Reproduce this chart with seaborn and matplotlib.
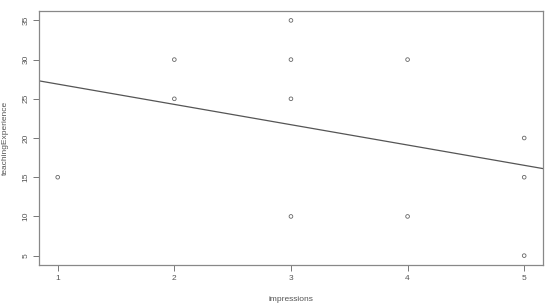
import matplotlib
matplotlib.use("Agg")
import matplotlib.pyplot as plt
import numpy as np
import pandas as pd
import seaborn as sns

impressions = [1, 2, 2, 3, 3, 3, 3, 4, 4, 5, 5, 5]
teaching_experience = [15, 30, 25, 35, 30, 25, 10, 30, 10, 20, 15, 5]
x_ticks = [1, 2, 3, 4, 5]
y_ticks = [5, 10, 15, 20, 25, 30, 35]

df = pd.DataFrame({"impressions": impressions,
                   "teachingExperience": teaching_experience})

sns.set_style("white")
plt.rcParams["font.family"] = ["Liberation Sans", "DejaVu Sans"]

fig = plt.figure(figsize=(5.5, 3.05), dpi=100)
ax = fig.add_axes([0.071, 0.131, 0.916, 0.833])

# R-style: open circles plus least squares line spanning the plot region
sns.scatterplot(data=df, x="impressions", y="teachingExperience", ax=ax,
                marker="o", s=7, facecolor="none", edgecolor="#666666",
                linewidth=0.6)
ax.set_xlim(0.84, 5.16)
ax.set_ylim(3.8, 36.2)
sns.regplot(data=df, x="impressions", y="teachingExperience", ax=ax,
            scatter=False, ci=None, truncate=False,
            line_kws={"color": "#555555", "linewidth": 0.9})
ax.set_xlim(0.84, 5.16)
ax.set_ylim(3.8, 36.2)

ax.set_xticks(x_ticks)
ax.set_yticks(y_ticks)
ax.tick_params(axis="both", direction="out", length=4, width=0.7,
               color="#777777", labelsize=6, labelcolor="#555555",
               bottom=True, left=True, pad=3)
for lbl in ax.get_yticklabels():
    lbl.set_rotation(90)
    lbl.set_va("center")
for sp in ax.spines.values():
    sp.set_color("#888888")
    sp.set_linewidth(0.9)

ax.set_xlabel("impressions", fontsize=6, color="#555555", labelpad=10)
ax.set_ylabel("teachingExperience", fontsize=6, color="#555555", labelpad=10)

fig.savefig("out.png", dpi=100)
